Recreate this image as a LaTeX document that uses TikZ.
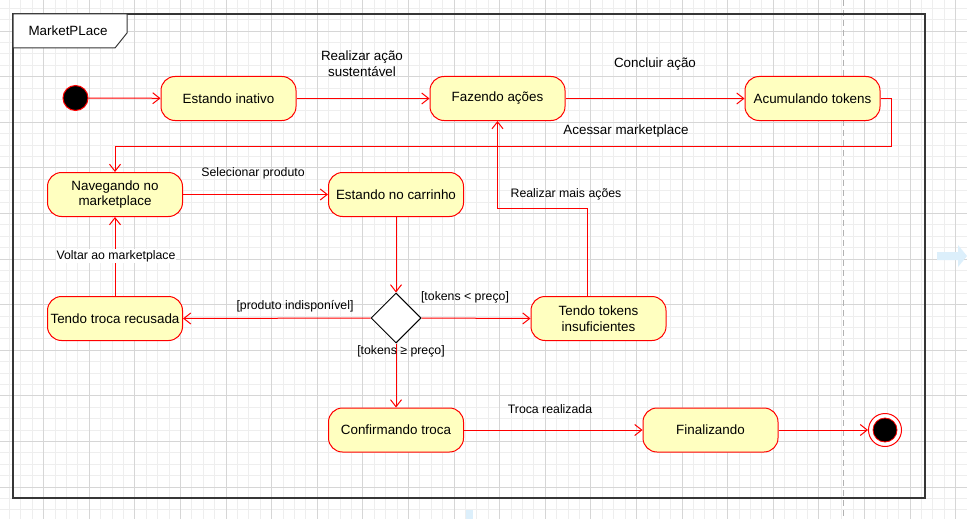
\documentclass[tikz,border=0pt]{standalone}
\usepackage{fontspec}
\setmainfont{Liberation Sans}
\usetikzlibrary{arrows.meta,shapes.geometric,calc}
\definecolor{stfill}{HTML}{FFFFC0}
\definecolor{stred}{HTML}{FF0000}
\definecolor{gridminor}{HTML}{EEEEEE}
\definecolor{gridmajor}{HTML}{D6D6D6}
\definecolor{framecol}{HTML}{363636}
\definecolor{hintblue}{HTML}{DCEFFB}
\tikzset{
  statebox/.style={draw=stred, fill=stfill, rounded corners=14pt, line width=1pt,
    minimum width=135pt, minimum height=44pt, inner sep=0pt, align=center,
    font=\fontsize{13.4}{15.6}\selectfont},
  decision/.style={diamond, draw=black, fill=white, line width=1pt,
    minimum width=50pt, minimum height=50pt, inner sep=0pt},
  arr/.style={draw=stred, line width=1pt, -{Straight Barb[length=7pt,width=11pt]}},
  biglbl/.style={align=center, inner sep=0pt, font=\fontsize{13.4}{15.6}\selectfont},
  smalllbl/.style={align=center, inner sep=0pt, font=\fontsize{12.3}{14}\selectfont},
}
\begin{document}
\begin{tikzpicture}[x=1pt,y=-1pt]
\useasboundingbox (0,0) rectangle (967,519);
\fill[white] (0,0) rectangle (967,519);
% grid
\foreach \i in {0,...,84} {\draw[gridminor, line width=0.8pt] ({9.4+11.4*\i},0) -- ({9.4+11.4*\i},519);}
\foreach \j in {0,...,45} {\draw[gridminor, line width=0.8pt] (0,{8.2+11.4*\j}) -- (967,{8.2+11.4*\j});}
\foreach \i in {0,...,20} {\draw[gridmajor, line width=0.8pt] ({43.6+45.6*\i},0) -- ({43.6+45.6*\i},519);}
\foreach \j in {0,...,11} {\draw[gridmajor, line width=0.8pt] (0,{31+45.6*\j}) -- (967,{31+45.6*\j});}
% page break line
\draw[gray!60, line width=1pt, dash pattern=on 6pt off 4pt] (843,0) -- (843,519);
% faint hint arrows
\fill[hintblue] (937,252) -- (958,252) -- (958,245) -- (967,256) -- (958,267) -- (958,260) -- (937,260) -- cycle;
\fill[hintblue] (466,510) rectangle (473,519);
% frame
\draw[framecol, line width=1.6pt] (13,14) rectangle (925,498);
\draw[framecol, line width=1pt, fill=white] (13,14) -- (127,14) -- (127,33) -- (115,48) -- (13,48) -- cycle;
\node[biglbl] (title) at (68,31) {MarketPLace};

% states
\node[circle, draw=stred, fill=black, line width=1pt, minimum size=25pt, inner sep=0pt] (start) at (75.5,98) {};
\node[statebox] (ina) at (228.5,98.5) {Estando inativo};
\node[statebox] (faz) at (497.5,98.5) {Fazendo ações};
\node[statebox] (acu) at (812.5,98.5) {Acumulando tokens};
\node[statebox] (nav) at (115,194.5) {Navegando no\\marketplace};
\node[statebox] (car) at (396,194.5) {Estando no carrinho};
\node[decision] (dec) at (396,318) {};
\node[statebox] (rec) at (115,318.5) {Tendo troca recusada};
\node[statebox] (ins) at (598.5,318.5) {Tendo tokens\\insuficientes};
\node[statebox] (con) at (396,430) {Confirmando troca};
\node[statebox] (fin) at (710.5,430) {Finalizando};
\node[circle, draw=stred, fill=white, line width=1pt, minimum size=33pt, inner sep=0pt] (endo) at (885,430) {};
\node[circle, draw=stred, fill=black, line width=0.8pt, minimum size=24pt, inner sep=0pt] (endi) at (885,430) {};

% helper coordinates
\coordinate (acc1) at (891,146);
\coordinate (rm1) at (587,208);

% connectors
\draw[arr] (start) -- (ina);
\draw[arr] (ina) -- (faz);
\draw[arr] (faz) -- (acu);
\draw[arr] (acu.east) -| (acc1) -| (nav.north);
\draw[arr] (nav) -- (car);
\draw[arr] (car) -- (dec);
\draw[arr] (dec.west) -- (rec.east);
\draw[arr] (dec.east) -- (ins.west);
\draw[arr] (dec.south) -- (con.north);
\draw[arr] (rm1 |- ins.north) -- (rm1) -| (faz.south);
\draw[arr] (rec) -- (nav);
\draw[arr] (con) -- (fin);
\draw[arr] (fin) -- (endo);

% labels
\node[biglbl] (l1) at (362,64) {Realizar ação\\sustentável};
\node[biglbl] (l2) at (655,64) {Concluir ação};
\node[biglbl] (l3) at (626,131) {Acessar marketplace};
\node[smalllbl] (l4) at (253,173) {Selecionar produto};
\node[smalllbl] (l5) at (566,194) {Realizar mais ações};
\node[smalllbl, fill=white, inner sep=1pt] (l6) at (116,256) {Voltar ao marketplace};
\node[smalllbl] (l7) at (295,306) {[produto indisponível]};
\node[smalllbl] (l8) at (465,297) {[tokens < preço]};
\node[smalllbl] (l9) at (401,351) {[tokens ≥ preço]};
\node[smalllbl] (l10) at (550,409) {Troca realizada};
\end{tikzpicture}
\end{document}
